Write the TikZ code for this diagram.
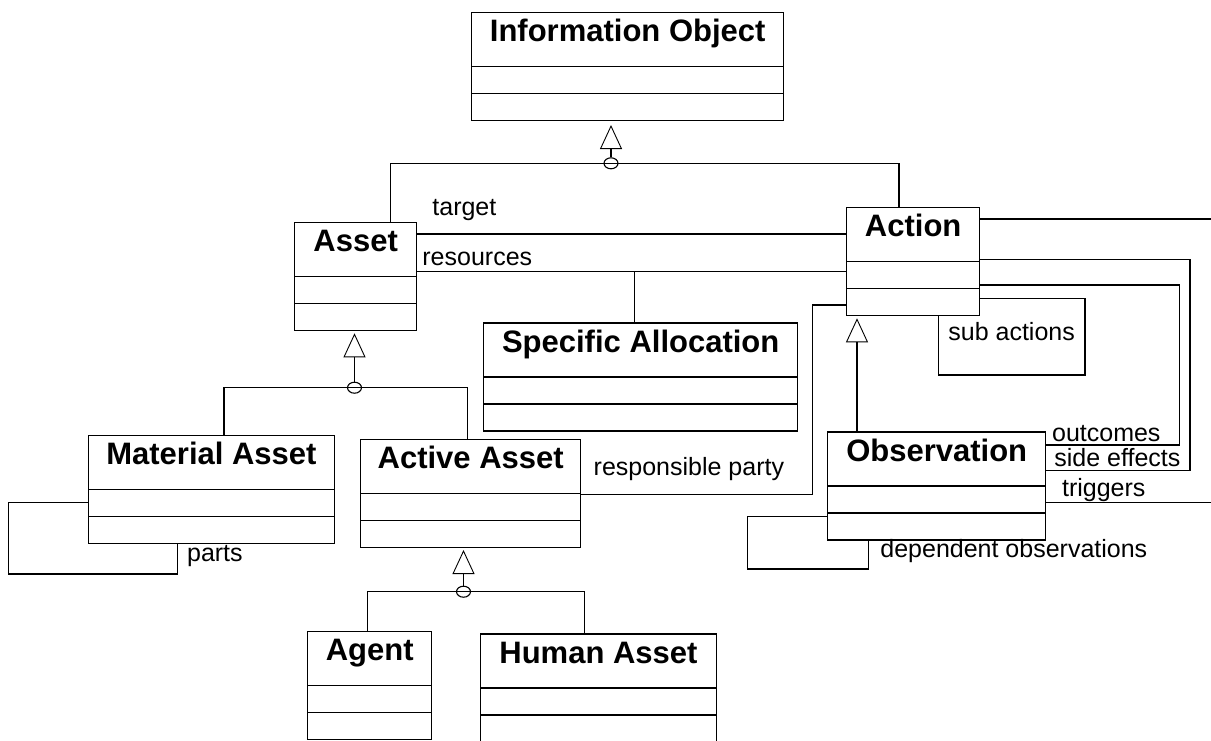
\documentclass[tikz,border=0pt]{standalone}
\usepackage{fontspec}
\setmainfont{Liberation Sans}
\usetikzlibrary{arrows.meta,calc,shapes.geometric}
\newcommand{\titlefont}{\fontsize{15.5}{18}\selectfont\bfseries}
\newcommand{\rolefont}{\fontsize{12.5}{15}\selectfont}
\tikzset{
  umlclass/.style={draw,line width=0.7pt,anchor=north west,inner sep=0pt,
                   text height=14.5pt,text depth=39.5pt,font=\titlefont,
                   path picture={
                     \draw[line width=0.7pt]
                       ([yshift=-27pt]path picture bounding box.north west) -- ([yshift=-27pt]path picture bounding box.north east)
                       ([yshift=-40.5pt]path picture bounding box.north west) -- ([yshift=-40.5pt]path picture bounding box.north east);
                   }},
  assoc/.style={line width=0.7pt},
  gen/.style={line width=0.7pt,-{Triangle[open,length=12pt,width=11pt,line width=0.45pt]}},
  junction/.style={ellipse,draw,line width=0.55pt,inner sep=0pt,minimum width=7pt,minimum height=5.5pt},
  role/.style={font=\rolefont,anchor=base west,inner sep=0pt}
}

\begin{document}
\begin{tikzpicture}[x=0.5pt,y=-0.5pt]
  \useasboundingbox (0,0) rectangle (1211,740);
  % classes
  \node[umlclass,minimum width=156pt] (info) at (471,12) {Information Object};
  \node[umlclass,minimum width=61pt] (asset) at (294,222) {Asset};
  \node[umlclass,minimum width=66.5pt] (action) at (846,207) {Action};
  \node[umlclass,minimum width=157pt] (alloc) at (483,322.3) {Specific Allocation};
  \node[umlclass,minimum width=122.75pt] (material) at (88,434.5) {Material Asset};
  \node[umlclass,minimum width=110pt] (active) at (360,438.5) {Active Asset};
  \node[umlclass,minimum width=109pt] (obs) at (827,431.3) {Observation};
  \node[umlclass,minimum width=62pt] (agent) at (307,630.5) {Agent};
  \node[umlclass,minimum width=118.25pt] (human) at (479.5,633.3) {Human Asset};

  % generalizations
  \node[junction] (j1) at (611,163.3) {};
  \node[junction] (j2) at (354.5,387.7) {};
  \node[junction] (j3) at (463.5,591.7) {};
  \coordinate (t1) at (611,125);
  \coordinate (t2) at (354.5,333.3);
  \coordinate (t3) at (463.5,550);
  \coordinate (t4) at (857,318.3);
  \draw[gen] (j1.north) -- (t1);
  \draw[gen] (j2.north) -- (t2);
  \draw[gen] (j3.north) -- (t3);
  \draw[gen] (obs.north -| t4) -- (t4);
  \draw[assoc] (asset.north -| 390.6,0) |- (j1.center) -| (action.north -| 899,0);
  \draw[assoc] (material.north -| 224,0) |- (j2.center) -| (active.north -| 467.3,0);
  \draw[assoc] (agent.north -| 367.3,0) |- (j3.center) -| (human.north -| 584.3,0);

  % associations
  \draw[assoc] (asset.east |- 0,234) -- (action.west |- 0,234);
  \draw[assoc] (asset.east |- 0,271.7) -- (action.west |- 0,271.7);
  \coordinate (resmid) at (634.4,271.7);
  \draw[assoc] (alloc.north -| resmid) -- (resmid);
  \draw[assoc] (active.east |- 0,494.3) -| (812.3,305) -- (action.west |- 0,305);
  \coordinate (eastA) at (1211,219);
  \draw[assoc] (action.east |- eastA) -- (eastA);
  \draw[assoc] (action.east |- 0,259.3) -| (1190,470.7) -- (obs.east |- 0,470.7);
  \draw[assoc] (action.east |- 0,285) -| (1179.3,445) -- (obs.east |- 0,445);
  \draw[assoc] (action.east |- 0,298.3) -| (1085,375) -| (action.south -| 938.3,0);
  \coordinate (eastO) at (1211,502.3);
  \draw[assoc] (obs.east |- eastO) -- (eastO);
  \draw[assoc] (obs.west |- 0,516.7) -| (747.3,569) -| (obs.south -| 868.3,0);
  \draw[assoc] (material.west |- 0,502.7) -| (8.3,574) -| (material.south -| 177.3,0);

  % role names
  \node[role] (ltarget) at (432,215) {target};
  \node[role] (lres) at (422,265) {resources};
  \node[role] (lsub) at (948,340) {sub actions};
  \node[role] (lout) at (1051.7,441) {outcomes};
  \node[role] (lside) at (1054,466) {side effects};
  \node[role] (ltrig) at (1061.7,496) {triggers};
  \node[role] (ldep) at (880,557) {dependent observations};
  \node[role] (lparts) at (186.7,561) {parts};
  \node[role] (lresp) at (593.3,475) {responsible party};
\end{tikzpicture}
\end{document}
